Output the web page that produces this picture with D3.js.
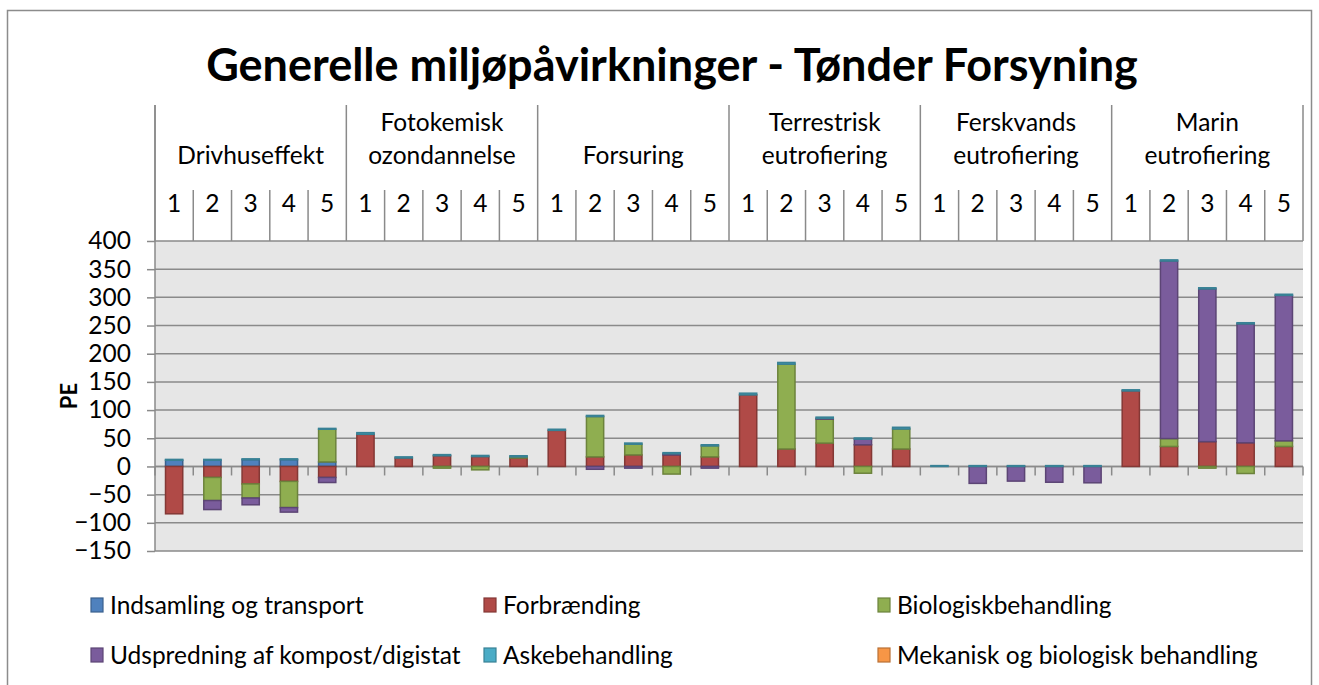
<!DOCTYPE html>
<html>
<head>
<meta charset="utf-8">
<script src="https://cdn.jsdelivr.net/npm/d3@7"></script>
<style>
  body { margin: 0; background: #fff; }
  svg text { font-family: Lato, "Open Sans", sans-serif; fill: #000; }
</style>
</head>
<body>
<div id="chart"></div>
<script>
// --- Data ---
const groupLabels = [
  ["Drivhuseffekt"],
  ["Fotokemisk", "ozondannelse"],
  ["Forsuring"],
  ["Terrestrisk", "eutrofiering"],
  ["Ferskvands", "eutrofiering"],
  ["Marin", "eutrofiering"],
];
const scenarios = ["1", "2", "3", "4", "5"];
const yTicks = [400, 350, 300, 250, 200, 150, 100, 50, 0, -50, -100, -150];

const seriesNames = [
  "Indsamling og transport",
  "Forbrænding",
  "Biologiskbehandling",
  "Udspredning af kompost/digistat",
  "Askebehandling",
  "Mekanisk og biologisk behandling",
];
const seriesColors = ["#4F81BD", "#B04A47", "#8FAE50", "#7A5C9C", "#4BACC6", "#F79646"];

// six groups x five scenarios, in order
const indsamling = [
  11, 11, 12, 12, 8,
  0, 0, 0, 0, 0,
  0, 0, 0, 0, 0,
  0, 0, 0, 0, 0,
  0, 0, 0, 0, 0,
  0, 0, 0, 0, 0,
];
const forbraending = [
  -84, -19.5, -31, -26.5, -19.5,
  57, 15, 19, 17.5, 15,
  64, 17, 20.5, 20.5, 17,
  127, 31, 41.5, 38.5, 31,
  0, 0, 0, 0, 0,
  134, 35.5, 44, 42, 35.5,
];
const biologisk = [
  0, -41, -25, -46.5, 58,
  0, 0, -3, -6, 2,
  0, 71.5, 19, -13.5, 19.5,
  0, 150.5, 42.5, -12, 35.5,
  0, 0, 0, 0, 0,
  0, 14, -3, -12.5, 10,
];
const udspredning = [
  0, -16, -12, -8, -9,
  0, 0, 0, 0, 0,
  0, -5, -3, 2, -3,
  0, 0, 1.5, 10, 0,
  0, -30, -26, -28, -29,
  0, 315, 271, 211, 258,
];
const aske = [
  1.5, 1.5, 1.5, 1.5, 1.5,
  3, 2, 2, 2, 2,
  2, 2, 2, 2, 2,
  3, 3, 2, 2, 3,
  1.5, 1.5, 1.5, 1.5, 1.5,
  2, 2, 2, 2, 2,
];
const mekanisk = [
  0, 0, 0, 0, 0,
  0, 0, 0, 0, 0,
  0, 0, 0, 0, 0,
  0, 0, 0, 0, 0,
  0, 0, 0, 0, 0,
  0, 0, 0, 0, 0,
];

const seriesValues = [indsamling, forbraending, biologisk, udspredning, aske, mekanisk];

// --- Layout ---
const W = 1319, H = 685;
const plot = { left: 155, right: 1303, top: 241, bottom: 551 };
const headerTop = 105, numberLineTop = 190;
const fontSize = "24.5px";

const rows = d3.range(30).map((i) => {
  const row = { idx: i };
  seriesNames.forEach((s, k) => (row[s] = seriesValues[k][i]));
  return row;
});

const svg = d3.select("#chart").append("svg").attr("width", W).attr("height", H);

// outer chart border
svg.append("rect")
  .attr("x", 7.5).attr("y", 10.5)
  .attr("width", 1304).attr("height", 700)
  .attr("fill", "#fff").attr("stroke", "#8c8c8c").attr("stroke-width", 1.5);

const x = d3.scaleBand().domain(d3.range(30)).range([plot.left, plot.right]).padding(0);
const y = d3.scaleLinear().domain([-150, 400]).range([plot.bottom, plot.top]);

// plot background
svg.append("rect")
  .attr("x", plot.left).attr("y", plot.top)
  .attr("width", plot.right - plot.left).attr("height", plot.bottom - plot.top)
  .attr("fill", "#e6e6e6");

// gridlines
svg.append("g")
  .selectAll("line")
  .data(yTicks)
  .join("line")
  .attr("x1", plot.left).attr("x2", plot.right)
  .attr("y1", (d) => y(d)).attr("y2", (d) => y(d))
  .attr("stroke", "#8a8a8a").attr("stroke-width", 1.5);

// y axis
const yAxis = svg.append("g")
  .attr("transform", `translate(${plot.left},0)`)
  .call(d3.axisLeft(y).tickValues(yTicks).tickSize(8).tickPadding(16));
yAxis.select(".domain").remove();
yAxis.selectAll(".tick line").attr("stroke", "#8a8a8a").attr("stroke-width", 1.5);
yAxis.selectAll(".tick text")
  .style("font-family", "Lato, sans-serif").style("font-size", fontSize).attr("fill", "#000");

svg.append("line")
  .attr("x1", plot.left).attr("x2", plot.left)
  .attr("y1", headerTop).attr("y2", plot.bottom)
  .attr("stroke", "#8a8a8a").attr("stroke-width", 1.5);

svg.append("text")
  .attr("transform", `translate(77,${(plot.top + plot.bottom) / 2}) rotate(-90)`)
  .attr("text-anchor", "middle")
  .style("font-size", "22px").style("font-weight", "bold")
  .text("PE");

// header: group separators and scenario separators
const groupW = x.bandwidth() * 5;
svg.append("g")
  .selectAll("line")
  .data(d3.range(31))
  .join("line")
  .attr("x1", (i) => plot.left + i * x.bandwidth())
  .attr("x2", (i) => plot.left + i * x.bandwidth())
  .attr("y1", (i) => (i % 5 === 0 ? headerTop : numberLineTop))
  .attr("y2", plot.top)
  .attr("stroke", "#8a8a8a").attr("stroke-width", 1.5);

svg.append("g")
  .selectAll("text")
  .data(rows)
  .join("text")
  .attr("x", (d) => x(d.idx) + x.bandwidth() / 2)
  .attr("y", 212)
  .attr("text-anchor", "middle")
  .style("font-size", fontSize)
  .text((d) => scenarios[d.idx % 5]);

groupLabels.forEach((lines, g) => {
  const cx = plot.left + groupW * (g + 0.5);
  lines.forEach((t, j) => {
    svg.append("text")
      .attr("x", cx)
      .attr("y", 164 - (lines.length - 1 - j) * 33)
      .attr("text-anchor", "middle")
      .style("font-size", fontSize)
      .text(t);
  });
});

// x axis at zero with ticks on band boundaries
svg.append("line")
  .attr("x1", plot.left).attr("x2", plot.right)
  .attr("y1", y(0)).attr("y2", y(0))
  .attr("stroke", "#8a8a8a").attr("stroke-width", 1.5);
svg.append("g")
  .selectAll("line")
  .data(d3.range(31))
  .join("line")
  .attr("x1", (i) => plot.left + i * x.bandwidth())
  .attr("x2", (i) => plot.left + i * x.bandwidth())
  .attr("y1", y(0)).attr("y2", y(0) + 9)
  .attr("stroke", "#8a8a8a").attr("stroke-width", 1.5);

// stacked bars
const stack = d3.stack().keys(seriesNames).offset(d3.stackOffsetDiverging);
const stacked = stack(rows);
const barW = x.bandwidth() * 0.45;

svg.append("g")
  .selectAll("g")
  .data(stacked)
  .join("g")
  .attr("fill", (d, i) => seriesColors[i])
  .attr("stroke", (d, i) => d3.color(seriesColors[i]).darker(0.8))
  .attr("stroke-width", 1.5)
  .selectAll("rect")
  .data((d) => d.filter((s) => s[1] !== s[0]))
  .join("rect")
  .attr("x", (d) => x(d.data.idx) + (x.bandwidth() - barW) / 2)
  .attr("y", (d) => y(Math.max(d[0], d[1])))
  .attr("width", barW)
  .attr("height", (d) => Math.abs(y(d[0]) - y(d[1])));

// title
svg.append("text")
  .attr("x", 672).attr("y", 81)
  .attr("text-anchor", "middle")
  .style("font-size", "45px").style("font-weight", "bold")
  .text("Generelle miljøpåvirkninger - Tønder Forsyning");

// legend
const legendPos = [
  [91, 605], [484, 605], [878, 605],
  [91, 655], [484, 655], [878, 655],
];
const legend = svg.append("g")
  .selectAll("g")
  .data(seriesNames)
  .join("g")
  .attr("transform", (d, i) => `translate(${legendPos[i][0]},${legendPos[i][1]})`);
legend.append("rect")
  .attr("x", 0).attr("y", -7).attr("width", 12).attr("height", 14)
  .attr("fill", (d, i) => seriesColors[i])
  .attr("stroke", (d, i) => d3.color(seriesColors[i]).darker(0.8))
  .attr("stroke-width", 1.2);
legend.append("text")
  .attr("x", 19).attr("y", 8.5)
  .style("font-size", fontSize)
  .text((d) => d);
</script>
</body>
</html>
